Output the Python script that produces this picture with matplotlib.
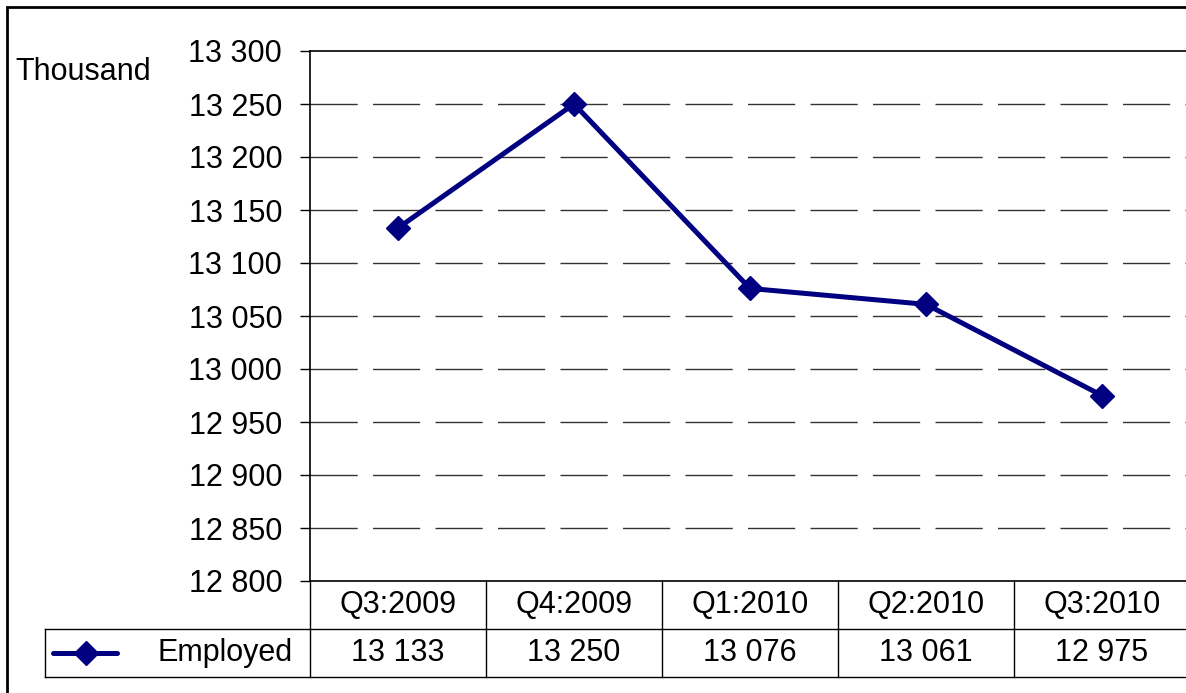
import matplotlib.pyplot as plt
from matplotlib.lines import Line2D
from matplotlib.patches import Rectangle

plt.rcParams['font.family'] = ['Liberation Sans', 'DejaVu Sans']

quarters = ['Q3:2009', 'Q4:2009', 'Q1:2010', 'Q2:2010', 'Q3:2010']
employed = [13133, 13250, 13076, 13061, 12975]
y_ticks = [12800, 12850, 12900, 12950, 13000, 13050, 13100, 13150, 13200, 13250, 13300]
series_name = 'Employed'
unit_label = 'Thousand'

W, H = 1186, 693
fig = plt.figure(figsize=(W / 100, H / 100), dpi=100)


def fx(px):
    return px / W


def fy(py):
    return 1 - py / H


def fmt(v):
    return '{:,}'.format(v).replace(',', ' ')


# plot area in pixels
left, right, top, bottom = 310, 1190, 51, 581
ax = fig.add_axes([fx(left), fy(bottom), fx(right - left), fy(top) - fy(bottom)])

navy = '#000080'
x = list(range(len(quarters)))
ax.plot(x, employed, color=navy, lw=3.6, marker='D', ms=12.5, zorder=5)

ax.set_xlim(-0.5, len(quarters) - 0.5)
ax.set_ylim(y_ticks[0], y_ticks[-1])
ax.set_yticks(y_ticks)
ax.set_yticklabels([fmt(t) for t in y_ticks], fontsize=22)
ax.set_xticks([])
ax.tick_params(axis='y', direction='out', length=7, width=1, pad=13)

for t in y_ticks[1:-1]:
    ax.axhline(t, color='#333333', lw=1, dashes=(34, 11), zorder=1)

ax.spines['right'].set_visible(False)
for s in ['left', 'top', 'bottom']:
    ax.spines[s].set_linewidth(1.2)

fig.text(fx(15), fy(72), unit_label, fontsize=22, ha='left', va='center')

# data table under the chart
col_w = (right - left) / len(quarters)
row1, row2, row3 = 581, 629, 677
lines = []
lines.append(([fx(45), fx(W + 5)], [fy(row2), fy(row2)]))
lines.append(([fx(45), fx(W + 5)], [fy(row3), fy(row3)]))
lines.append(([fx(45), fx(45)], [fy(row2), fy(row3)]))
for i in range(len(quarters) + 1):
    xp = left + i * col_w
    lines.append(([fx(xp), fx(xp)], [fy(row1), fy(row3)]))
for xs, ys in lines:
    fig.add_artist(Line2D(xs, ys, color='black', lw=1))

for i, (q, v) in enumerate(zip(quarters, employed)):
    cx = left + (i + 0.5) * col_w
    fig.text(fx(cx), fy((row1 + row2) / 2), q, fontsize=22, ha='center', va='center')
    fig.text(fx(cx), fy((row2 + row3) / 2), fmt(v), fontsize=22, ha='center', va='center')

# legend key in the table
ym = fy((row2 + row3) / 2)
fig.add_artist(Line2D([fx(53), fx(117)], [ym, ym], color=navy, lw=3.6, solid_capstyle='round'))
fig.add_artist(Line2D([fx(86)], [ym], color=navy, marker='D', ms=12))
fig.text(fx(293), ym, series_name, fontsize=22, ha='right', va='center')

# outer chart border
fig.add_artist(Rectangle((fx(7), fy(H + 20)), fx(W + 40), fy(7) - fy(H + 20),
                         fill=False, edgecolor='black', lw=2, transform=fig.transFigure))

fig.savefig('out.png', dpi=100)
